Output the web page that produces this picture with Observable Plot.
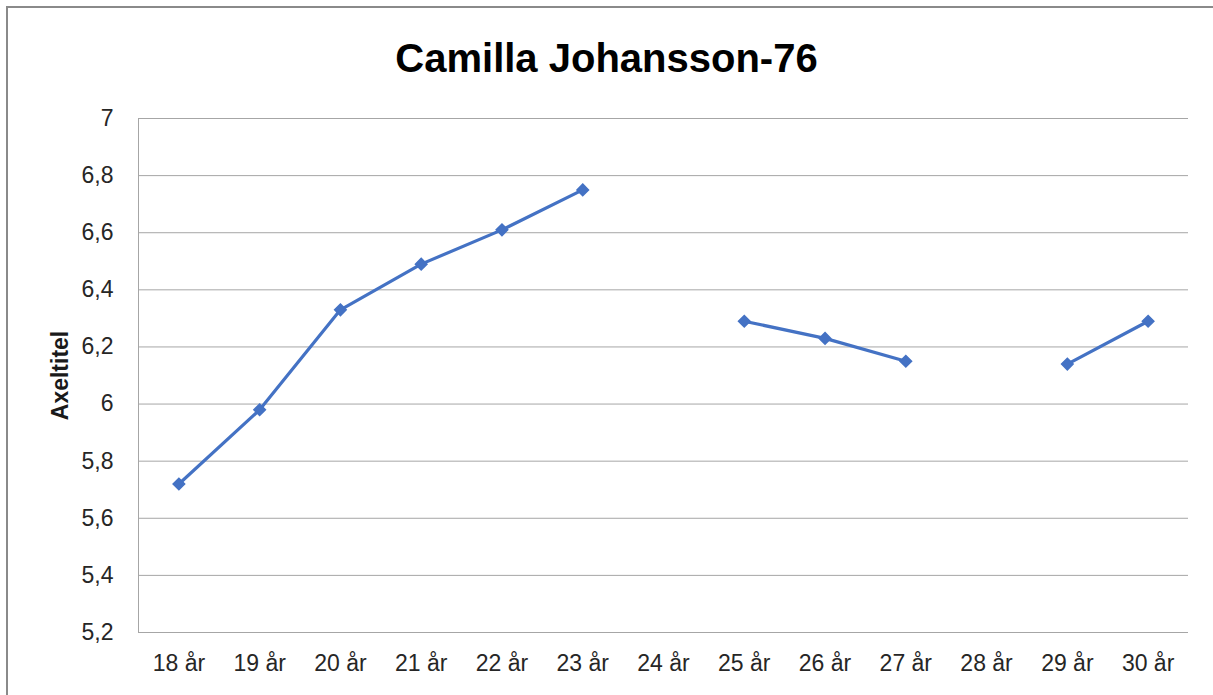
<!DOCTYPE html>
<html>
<head>
<meta charset="utf-8">
<script src="https://cdn.jsdelivr.net/npm/d3@7"></script>
<script src="https://cdn.jsdelivr.net/npm/@observablehq/plot@0.6"></script>
<style>
  html, body { margin: 0; padding: 0; background: #fff; }
  body { width: 1213px; height: 695px; position: relative; overflow: hidden; font-family: "Liberation Sans", Arial, sans-serif; }
  #frame { position: absolute; left: 6px; top: 6px; width: 1300px; height: 800px; border-top: 2px solid #8a8a8a; border-left: 2px solid #8a8a8a; pointer-events: none; }
  #title { height: 90px; width: 1213px; text-align: center; font-weight: bold; font-size: 40px; line-height: 1; padding-top: 38px; box-sizing: border-box; color: #000; font-family: "Liberation Sans", Arial, sans-serif; }
  #chart svg { display: block; }
</style>
</head>
<body>
<div id="title">Camilla Johansson-76</div>
<div id="chart"></div>
<div id="frame"></div>
<script>
const categories = ["18 år","19 år","20 år","21 år","22 år","23 år","24 år","25 år","26 år","27 år","28 år","29 år","30 år"];
const values = [5.72, 5.98, 6.33, 6.49, 6.61, 6.75, null, 6.29, 6.23, 6.15, null, 6.14, 6.29];
const yTicks = [5.2, 5.4, 5.6, 5.8, 6, 6.2, 6.4, 6.6, 6.8, 7];
const yLabel = "Axeltitel";

const data = categories.map((c, i) => ({cat: c, v: values[i]}));
const fmt = d => String(+d.toFixed(1)).replace(".", ",");

const chart = Plot.plot({
  width: 1213,
  height: 605,
  marginTop: 28,
  marginBottom: 63,
  marginLeft: 138,
  marginRight: 25,
  style: {fontFamily: "'Liberation Sans', Arial, sans-serif", fontSize: "23px", color: "#262626", background: "#fff"},
  x: {type: "band", domain: categories, padding: 0, round: false, label: null},
  y: {domain: [5.2, 7], label: null},
  marks: [
    Plot.gridY(yTicks, {stroke: "#a6a6a6", strokeOpacity: 1, strokeWidth: 1}),
    Plot.frame({anchor: "left", stroke: "#a6a6a6", strokeWidth: 1}),
    Plot.axisY(yTicks, {tickSize: 0, tickPadding: 25, tickFormat: fmt, fontSize: 23, fill: "#262626", label: null}),
    Plot.axisX({tickSize: 0, tickPadding: 22, fontSize: 23, fill: "#262626", label: null}),
    Plot.text([yLabel], {frameAnchor: "left", dx: -78, rotate: -90, textAnchor: "middle", fontWeight: "bold", fontSize: 23, fill: "#1a1a1a"}),
    Plot.line(data, {x: "cat", y: "v", stroke: "#4472C4", strokeWidth: 3.2}),
    Plot.dot(data.filter(d => d.v != null), {x: "cat", y: "v", symbol: "diamond2", r: 5.2, fill: "#4472C4", stroke: "#4472C4"})
  ]
});
document.getElementById("chart").appendChild(chart);
</script>
</body>
</html>
